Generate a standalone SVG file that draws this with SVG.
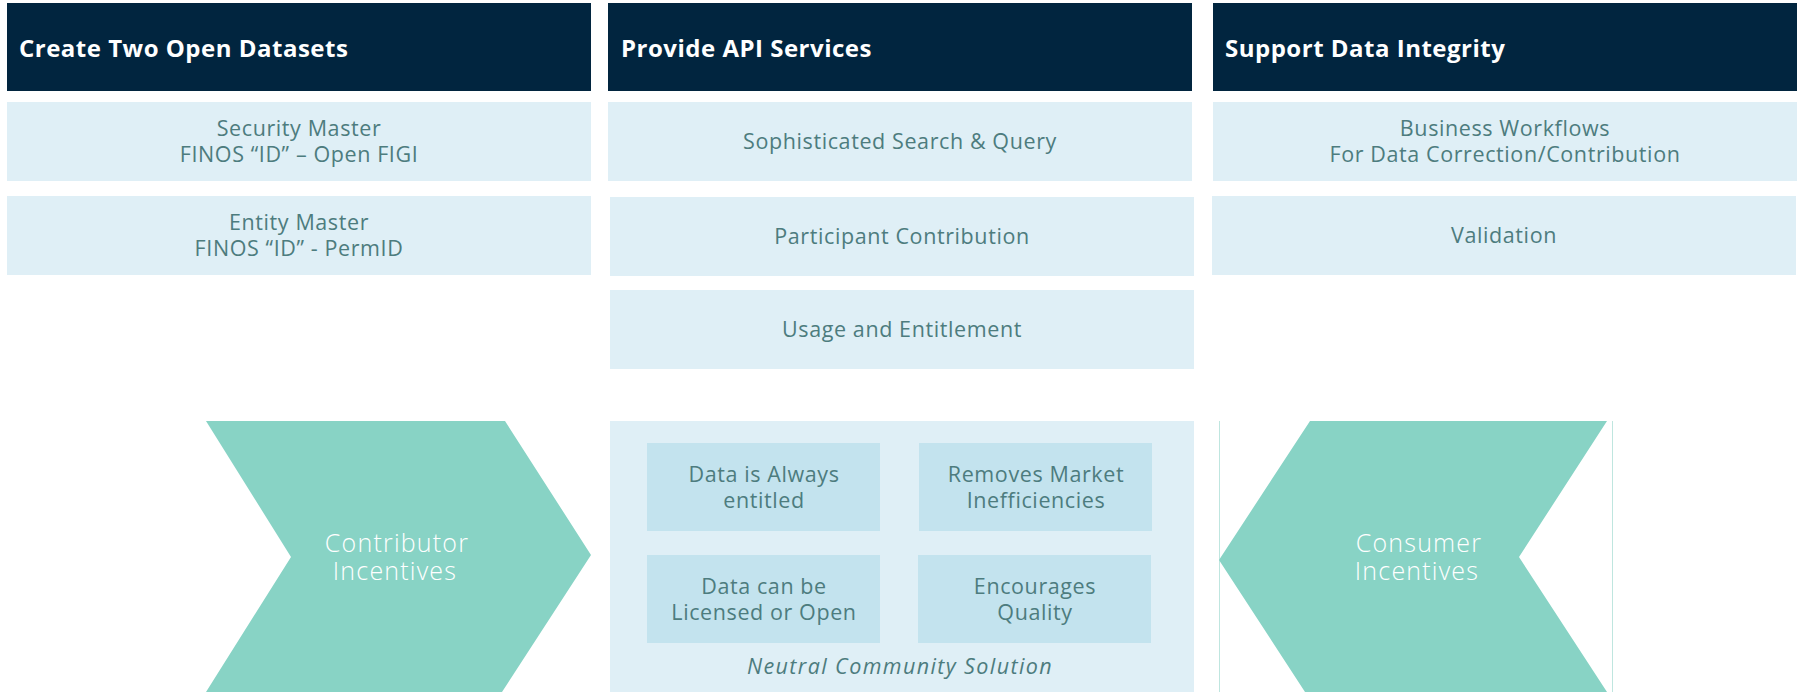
<svg xmlns="http://www.w3.org/2000/svg" width="1803" height="692" viewBox="0 0 1803 692">
<style>
.hdr{fill:#01253f}
.box{fill:#dfeff6}
.inner{fill:#c3e3ee}
.chev{fill:#88d3c5}
.ht{font-family:"Open Sans","Liberation Sans",sans-serif;font-weight:700;font-size:24px;letter-spacing:0.5px;fill:#ffffff}
.bt{font-family:"Open Sans","Liberation Sans",sans-serif;font-size:21.5px;letter-spacing:0.6px;fill:#4d7c7e;text-anchor:middle}
.ct{font-family:"Open Sans","Liberation Sans",sans-serif;font-weight:300;font-size:25px;letter-spacing:1.2px;fill:#ffffff;text-anchor:middle}
.it{font-style:italic;letter-spacing:1.4px}
.edge{stroke:#bfe6df;stroke-width:1;fill:none}
</style>
<rect width="1803" height="692" fill="#ffffff"/>

<g id="col1-header"><rect class="hdr" x="7" y="3" width="584" height="88"/><text class="ht" x="19" y="57">Create Two Open Datasets</text></g>
<g id="security-master"><rect class="box" x="7" y="102" width="584" height="79"/><text class="bt" x="299" y="136">Security Master</text><text class="bt" x="299" y="162">FINOS “ID” – Open FIGI</text></g>
<g id="entity-master"><rect class="box" x="7" y="196" width="584" height="79"/><text class="bt" x="299" y="230">Entity Master</text><text class="bt" x="299" y="256">FINOS “ID” - PermID</text></g>

<g id="col2-header"><rect class="hdr" x="608" y="3" width="584" height="88"/><text class="ht" x="621" y="57">Provide API Services</text></g>
<g id="search-query"><rect class="box" x="608" y="102" width="584" height="79"/><text class="bt" x="900" y="149">Sophisticated Search &amp; Query</text></g>
<g id="participant-contribution"><rect class="box" x="610" y="197" width="584" height="79"/><text class="bt" x="902" y="244">Participant Contribution</text></g>
<g id="usage-entitlement"><rect class="box" x="610" y="290" width="584" height="79"/><text class="bt" x="902" y="337">Usage and Entitlement</text></g>

<g id="col3-header"><rect class="hdr" x="1213" y="3" width="584" height="88"/><text class="ht" x="1225" y="57">Support Data Integrity</text></g>
<g id="business-workflows"><rect class="box" x="1213" y="102" width="584" height="79"/><text class="bt" x="1505" y="136">Business Workflows</text><text class="bt" x="1505" y="162">For Data Correction/Contribution</text></g>
<g id="validation"><rect class="box" x="1212" y="196" width="584" height="79"/><text class="bt" x="1504" y="243">Validation</text></g>

<g id="contributor-incentives"><polygon class="chev" points="206,421 505,421 591,555 502,692 206,692 291,557"/><text class="ct" x="397" y="552">Contributor</text><text class="ct" x="395" y="580">Incentives</text></g>

<g id="neutral-community-solution"><rect class="box" x="610" y="421" width="584" height="271"/>
<text class="bt it" x="900" y="674">Neutral Community Solution</text></g>
<g id="always-entitled"><rect class="inner" x="647" y="443" width="233" height="88"/><text class="bt" x="764" y="482">Data is Always</text><text class="bt" x="764" y="508">entitled</text></g>
<g id="market-inefficiencies"><rect class="inner" x="919" y="443" width="233" height="88"/><text class="bt" x="1036" y="482">Removes Market</text><text class="bt" x="1036" y="508">Inefficiencies</text></g>
<g id="licensed-open"><rect class="inner" x="647" y="555" width="233" height="88"/><text class="bt" x="764" y="594">Data can be</text><text class="bt" x="764" y="620">Licensed or Open</text></g>
<g id="encourages-quality"><rect class="inner" x="918" y="555" width="233" height="88"/><text class="bt" x="1035" y="594">Encourages</text><text class="bt" x="1035" y="620">Quality</text></g>

<g id="consumer-incentives"><line class="edge" x1="1219.5" y1="421" x2="1219.5" y2="692"/><line class="edge" x1="1612.5" y1="421" x2="1612.5" y2="692"/><polygon class="chev" points="1310,421 1607,421 1519,557 1607,692 1305,692 1219,560"/><text class="ct" x="1419" y="552">Consumer</text><text class="ct" x="1417" y="580">Incentives</text></g>

<g id="connectors"></g>
</svg>
